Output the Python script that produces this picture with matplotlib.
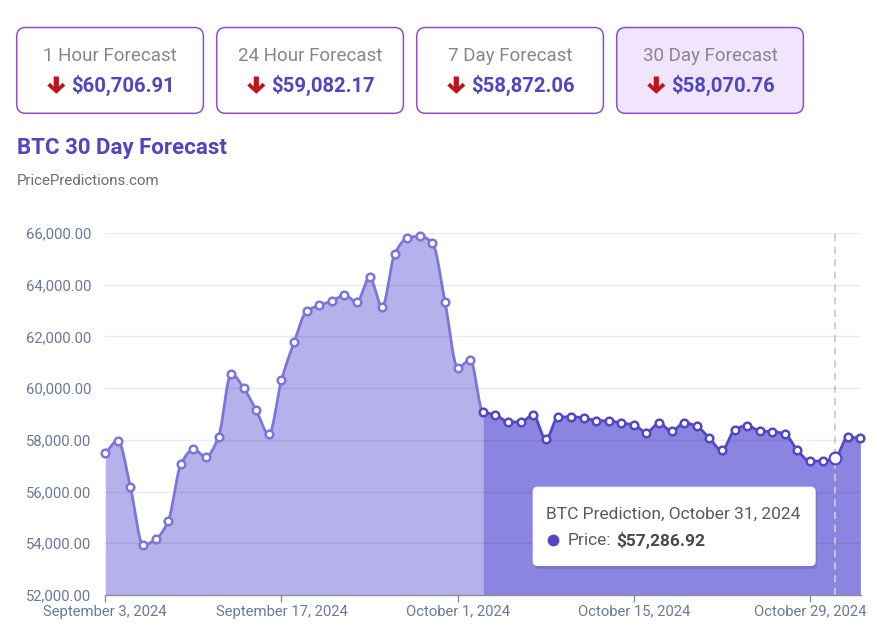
import numpy as np
import matplotlib.pyplot as plt
import matplotlib.dates as mdates
from matplotlib.patches import FancyBboxPatch, Polygon
from matplotlib.ticker import FuncFormatter

plt.rcParams['font.family'] = ['Roboto', 'DejaVu Sans']

# daily BTC values, Sep 3 .. Nov 2 2024
start = np.datetime64('2024-09-03')
prices = [57480, 57970, 56160, 53930, 54150, 54860, 57050, 57630, 57350, 58120,
          60550, 60000, 59140, 58210, 60310, 61770, 62980, 63200, 63370, 63590,
          63340, 64290, 63140, 65200, 65800, 65880, 65610, 63320, 60790, 61100,
          59080, 58970, 58700, 58690, 58960, 58020, 58890, 58890, 58860, 58740,
          58740, 58650, 58590, 58280, 58650, 58330, 58660, 58520, 58070, 57590,
          58380, 58550, 58350, 58320, 58230, 57590, 57180, 57180, 57286.92, 58100,
          58070.76]
split_idx = 30        # Oct 3, forecast starts here
hover_idx = 58        # Oct 31

card_titles = ['1 Hour Forecast', '24 Hour Forecast', '7 Day Forecast', '30 Day Forecast']
card_values = ['$60,706.91', '$59,082.17', '$58,872.06', '$58,070.76']
tick_dates = ['2024-09-03', '2024-09-17', '2024-10-01', '2024-10-15', '2024-10-29']
y_ticks = [52000, 54000, 56000, 58000, 60000, 62000, 64000, 66000]

dates = start + np.arange(len(prices))
x = mdates.date2num(dates.astype('datetime64[D]').astype(object))
y = np.array(prices, dtype=float)

W, H = 877, 630
fig = plt.figure(figsize=(W / 100, H / 100), dpi=100)
fig.patch.set_facecolor('white')

light_fill = '#b5b1eb'
light_line = '#7d75db'
dark_fill = '#8b84e0'
dark_line = '#5447c4'
tick_col = '#6b7896'


def pchip(xk, yk, n=30):
    # monotone cubic path through the points (just for drawing the curve)
    h = np.diff(xk)
    d = np.diff(yk) / h
    m = np.zeros_like(yk)
    for k in range(1, len(yk) - 1):
        if d[k - 1] * d[k] > 0:
            w1 = 2 * h[k] + h[k - 1]
            w2 = h[k] + 2 * h[k - 1]
            m[k] = (w1 + w2) / (w1 / d[k - 1] + w2 / d[k])
    m[0] = d[0]
    m[-1] = d[-1]
    xs, ys = [], []
    for k in range(len(xk) - 1):
        t = np.linspace(0, 1, n, endpoint=False)
        h00 = 2 * t**3 - 3 * t**2 + 1
        h10 = t**3 - 2 * t**2 + t
        h01 = -2 * t**3 + 3 * t**2
        h11 = t**3 - t**2
        xs.append(xk[k] + t * h[k])
        ys.append(h00 * yk[k] + h10 * h[k] * m[k] + h01 * yk[k + 1] + h11 * h[k] * m[k + 1])
    xs.append([xk[-1]])
    ys.append([yk[-1]])
    return np.concatenate(xs), np.concatenate(ys)


def px(v):
    return v / W


def py(v):
    return 1 - v / H


# main chart axes
ax = fig.add_axes([px(105.3), py(595), px(861) - px(105.3), py(233) - py(595)])
ax.set_xlim(x[0], x[-1] + 0.05)
ax.set_ylim(52000, 66000)

sx, sy = pchip(x, y)
xs_split = x[split_idx]
lm = sx <= xs_split
dm = sx >= xs_split
ax.fill_between(sx[lm], sy[lm], 52000, color=light_fill, lw=0, zorder=1)
ax.fill_between(sx[dm], sy[dm], 52000, color=dark_fill, lw=0, zorder=1)
ax.plot(sx[lm], sy[lm], color=light_line, lw=2, zorder=3, solid_capstyle='round')
ax.plot(sx[dm], sy[dm], color=dark_line, lw=2, zorder=3, solid_capstyle='round')
ax.plot(x[:split_idx], y[:split_idx], 'o', ms=5.5, mfc='white', mec=light_line,
        mew=1.8, zorder=4, clip_on=False)
ax.plot(x[split_idx:], y[split_idx:], 'o', ms=5.5, mfc='white', mec=dark_line,
        mew=1.8, zorder=4, clip_on=False)

# hover line + highlighted point
ax.axvline(x[hover_idx], color='#c9ccd8', lw=1.3, ls=(0, (4, 3)), zorder=2)
ax.plot(x[hover_idx], y[hover_idx], 'o', ms=8.5, mfc='white', mec=dark_line,
        mew=1.6, zorder=5)

for v in y_ticks[1:]:
    ax.axhline(v, color='#000000', lw=1, alpha=0.08, zorder=2)

ax.set_yticks(y_ticks)
ax.yaxis.set_major_formatter(FuncFormatter(lambda v, p: f'{v:,.2f}'))
tx = mdates.date2num([np.datetime64(d).astype(object) for d in tick_dates])
ax.set_xticks(tx)
ax.set_xticklabels([np.datetime64(d).astype(object).strftime('%B %-d, %Y') for d in tick_dates])
ax.tick_params(axis='y', length=0, pad=10, labelsize=10.7, labelcolor=tick_col)
ax.tick_params(axis='x', length=5, width=1, color='#8a8f9c', pad=2,
               labelsize=10.7, labelcolor=tick_col)
for s in ['top', 'right', 'left']:
    ax.spines[s].set_visible(False)
ax.spines['bottom'].set_color('#8a8f9c')
ax.spines['bottom'].set_linewidth(1)
ax.spines['bottom'].set_zorder(6)
ax.set_facecolor('none')

# overlay in pixel coords for cards, title and tooltip
ov = fig.add_axes([0, 0, 1, 1])
ov.set_xlim(0, W)
ov.set_ylim(H, 0)
ov.axis('off')
ov.patch.set_alpha(0)

for i, (t, v) in enumerate(zip(card_titles, card_values)):
    x0 = 16.7 + 200 * i
    fc = '#f0e5fc' if i == 3 else 'white'
    ov.add_patch(FancyBboxPatch((x0, 27.5), 186.7, 85.8,
                                boxstyle='round,pad=0,rounding_size=9',
                                fc=fc, ec='#8a4fd3', lw=1.1))
    ov.text(x0 + 93.3, 56, t, ha='center', va='center', fontsize=13.5,
            color='#878787')
    cx, cy = x0 + 39.6, 85
    arrow = np.array([(-2.6, -8.5), (2.6, -8.5), (2.6, 1.5), (6.3, -2.2), (9, 0.6),
                      (0, 8.8), (-9, 0.6), (-6.3, -2.2), (-2.6, 1.5)])
    ov.add_patch(Polygon(arrow + [cx, cy], closed=True, fc='#c0141c', ec='none'))
    ov.text(x0 + 54, 85.5, v, ha='left', va='center', fontsize=14.6,
            fontweight='bold', color='#4f46c1')

ov.text(17, 148, 'BTC 30 Day Forecast', ha='left', va='center', fontsize=16,
        fontweight='bold', color='#4f46c1')
ov.text(17, 181, 'PricePredictions.com', ha='left', va='center', fontsize=10.8,
        color='#6d6d6d')

# tooltip
ov.add_patch(FancyBboxPatch((534, 489), 283, 80, boxstyle='round,pad=0,rounding_size=5',
                            fc='black', ec='none', alpha=0.10))
ov.add_patch(FancyBboxPatch((532.7, 486.7), 283, 79.3, boxstyle='round,pad=0,rounding_size=5',
                            fc='white', ec='none'))
ov.text(546, 514.5, 'BTC Prediction, October 31, 2024', ha='left', va='center',
        fontsize=12.5, color='#5a5a5a')
ov.plot(552.5, 540, 'o', ms=8.5, color='#5447c4', mec='none')
ov.text(567.5, 540.5, 'Price:', ha='left', va='center', fontsize=12.5, color='#5a5a5a')
ov.text(616.5, 540.5, '$57,286.92', ha='left', va='center', fontsize=12.5,
        fontweight='bold', color='#4a4a4a')

fig.savefig('out.png', dpi=100, facecolor='white')
